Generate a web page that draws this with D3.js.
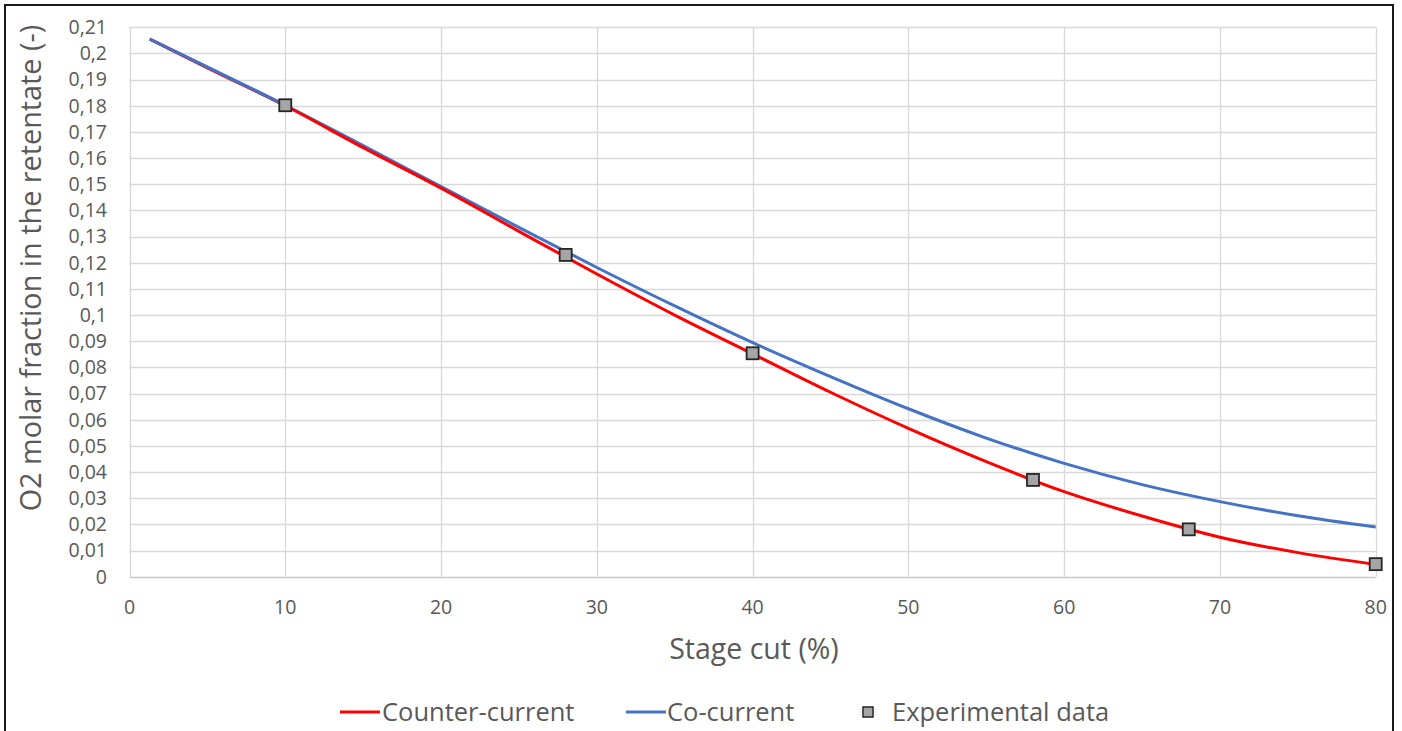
<!DOCTYPE html>
<html>
<head>
<meta charset="utf-8">
<script src="https://cdn.jsdelivr.net/npm/d3@7"></script>
<style>
html,body{margin:0;padding:0;background:#fff;}
svg{display:block;}
text{font-family:"Open Sans",sans-serif;fill:#595959;}
</style>
</head>
<body>
<svg id="chart" width="1402" height="731"></svg>
<script>
// ---- data ----
const xTicks = [0, 10, 20, 30, 40, 50, 60, 70, 80];
const yTicks = [0,0.01,0.02,0.03,0.04,0.05,0.06,0.07,0.08,0.09,0.1,0.11,0.12,0.13,0.14,0.15,0.16,0.17,0.18,0.19,0.2,0.21];
const yTickLabels = ["0","0,01","0,02","0,03","0,04","0,05","0,06","0,07","0,08","0,09","0,1","0,11","0,12","0,13","0,14","0,15","0,16","0,17","0,18","0,19","0,2","0,21"];

const curveX = [1.3, 5, 10, 15, 20, 25, 30, 35, 40, 45, 50, 55, 60, 65, 70, 75, 80];
const counterCurrent = [0.2055, 0.1945, 0.1800, 0.1640, 0.1485, 0.1320, 0.1157, 0.1000, 0.0852, 0.0705, 0.0567, 0.0440, 0.0325, 0.0232, 0.0151, 0.0092, 0.0047];
const coCurrent      = [0.2055, 0.1948, 0.1802, 0.1648, 0.1491, 0.1335, 0.1182, 0.1035, 0.0895, 0.0765, 0.0642, 0.0530, 0.0433, 0.0352, 0.0287, 0.0233, 0.0190];

const expX = [10, 28, 40, 58, 68, 80];
const expY = [0.1802, 0.1230, 0.0854, 0.0370, 0.0181, 0.0048];

const seriesNames = ["Counter-current", "Co-current", "Experimental data"];
const xTitle = "Stage cut (%)";
const yTitle = "O2 molar fraction in the retentate (-)";

// ---- drawing ----
const svg = d3.select("#chart");
const x = d3.scaleLinear().domain([0, 80]).range([129.5, 1375.7]);
const y = d3.scaleLinear().domain([0, 0.21]).range([576.7, 27.3]);

// outer frame
svg.append("rect").attr("x", 5).attr("y", 5).attr("width", 1388).attr("height", 740)
  .attr("fill", "none").attr("stroke", "#1a1a1a").attr("stroke-width", 2);

// gridlines
svg.append("g").selectAll("line").data(yTicks.slice(1)).join("line")
  .attr("x1", x(0)).attr("x2", x(80))
  .attr("y1", d => Math.round(y(d)) + 0.5).attr("y2", d => Math.round(y(d)) + 0.5)
  .attr("stroke", "#d9d9d9").attr("stroke-width", 1.3);
svg.append("g").selectAll("line").data(xTicks).join("line")
  .attr("x1", d => Math.round(x(d)) + 0.5).attr("x2", d => Math.round(x(d)) + 0.5)
  .attr("y1", y(0.21)).attr("y2", y(0))
  .attr("stroke", "#d9d9d9").attr("stroke-width", 1.3);
// x axis line
svg.append("line").attr("x1", x(0)).attr("x2", x(80))
  .attr("y1", Math.round(y(0)) + 0.5).attr("y2", Math.round(y(0)) + 0.5)
  .attr("stroke", "#c8c8c8").attr("stroke-width", 1.5);

// y tick labels
svg.append("g").selectAll("text").data(yTicks).join("text")
  .attr("x", 107).attr("y", d => y(d)).attr("dy", "0.35em")
  .attr("text-anchor", "end").attr("font-size", 19.5)
  .text((d, i) => yTickLabels[i]);
// x tick labels
svg.append("g").selectAll("text").data(xTicks).join("text")
  .attr("x", d => x(d)).attr("y", 607).attr("dy", "0.35em")
  .attr("text-anchor", "middle").attr("font-size", 19.5)
  .text(d => d);

// axis titles
svg.append("text").attr("x", 754).attr("y", 649).attr("dy", "0.35em")
  .attr("text-anchor", "middle").attr("font-size", 28.5).text(xTitle);
svg.append("text").attr("transform", "translate(31,268) rotate(-90)")
  .attr("dy", "0.35em").attr("text-anchor", "middle").attr("font-size", 28.8).text(yTitle);

// lines
const line = d3.line().curve(d3.curveMonotoneX).x(d => x(d[0])).y(d => y(d[1]));
svg.append("path").datum(curveX.map((v, i) => [v, coCurrent[i]]))
  .attr("d", line).attr("fill", "none").attr("stroke", "#4472c4").attr("stroke-width", 3);
svg.append("path").datum(curveX.map((v, i) => [v, counterCurrent[i]]))
  .attr("d", line).attr("fill", "none").attr("stroke", "#ff0000").attr("stroke-width", 3);
// co-current drawn on top where both overlap at the start
svg.append("path").datum(curveX.slice(0, 3).map((v, i) => [v, coCurrent[i]]))
  .attr("d", line).attr("fill", "none").attr("stroke", "#4472c4").attr("stroke-width", 3);

// experimental markers
const ms = 12;
svg.append("g").selectAll("rect").data(expX.map((v, i) => [v, expY[i]])).join("rect")
  .attr("x", d => x(d[0]) - ms / 2).attr("y", d => y(d[1]) - ms / 2)
  .attr("width", ms).attr("height", ms)
  .attr("fill", "#a5a5a5").attr("stroke", "#262626").attr("stroke-width", 1.8);

// legend
const lg = svg.append("g");
const ly = 712;
const lfs = 25.5;
lg.append("line").attr("x1", 340).attr("x2", 380).attr("y1", ly).attr("y2", ly)
  .attr("stroke", "#ff0000").attr("stroke-width", 3);
lg.append("text").attr("x", 382).attr("y", ly).attr("dy", "0.35em").attr("font-size", lfs).text(seriesNames[0]);
lg.append("line").attr("x1", 626).attr("x2", 666).attr("y1", ly).attr("y2", ly)
  .attr("stroke", "#4472c4").attr("stroke-width", 3);
lg.append("text").attr("x", 667).attr("y", ly).attr("dy", "0.35em").attr("font-size", lfs).text(seriesNames[1]);
lg.append("rect").attr("x", 863).attr("y", ly - 5).attr("width", 10).attr("height", 10)
  .attr("fill", "#a5a5a5").attr("stroke", "#262626").attr("stroke-width", 1.5);
lg.append("text").attr("x", 892).attr("y", ly).attr("dy", "0.35em").attr("font-size", lfs).text(seriesNames[2]);
</script>
</body>
</html>
